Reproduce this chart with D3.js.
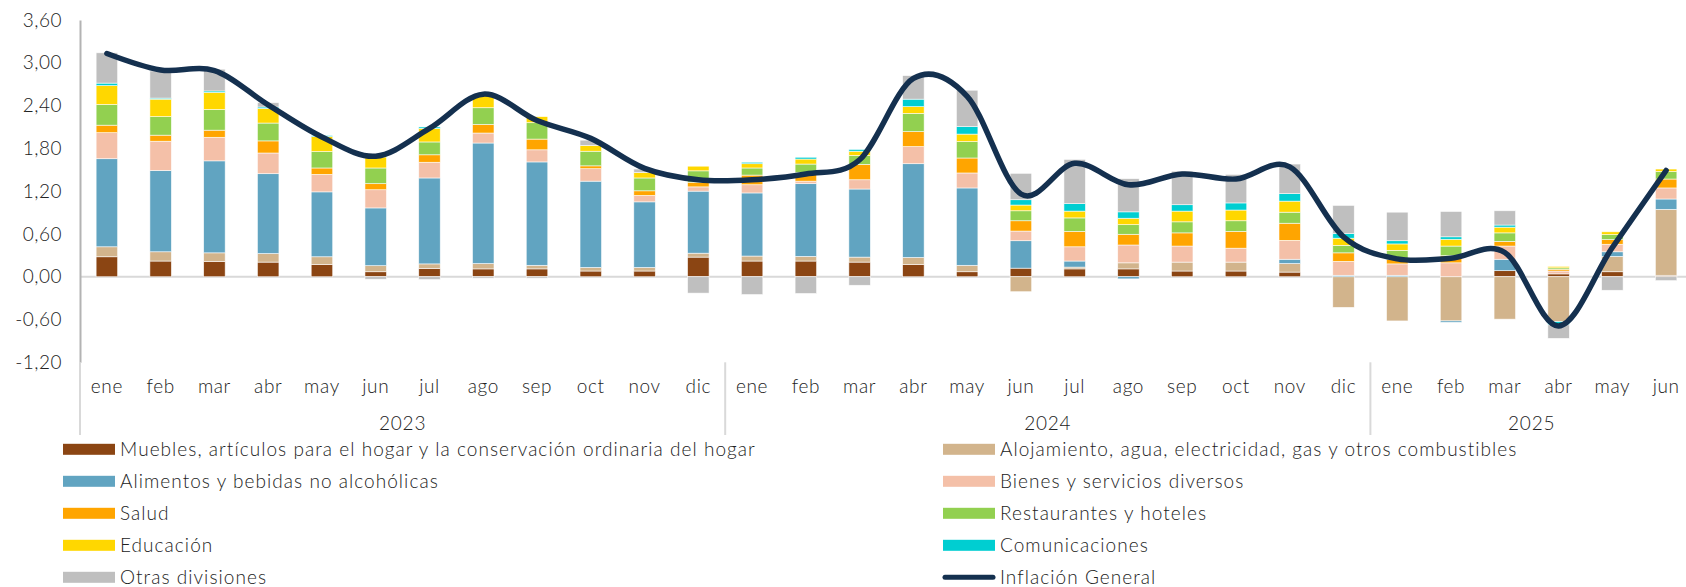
<!DOCTYPE html>
<html>
<head>
<meta charset="utf-8">
<script src="https://cdn.jsdelivr.net/npm/d3@7"></script>
<style>
  html, body { margin: 0; padding: 0; background: #fff; }
  svg { display: block; font-family: Lato, "Open Sans", sans-serif; font-weight: 300; }
</style>
</head>
<body>
<svg id="chart" width="1686" height="587"></svg>
<script>
const months = ["ene","feb","mar","abr","may","jun","jul","ago","sep","oct","nov","dic",
                "ene","feb","mar","abr","may","jun","jul","ago","sep","oct","nov","dic",
                "ene","feb","mar","abr","may","jun"];
const years = [{label:"2023", start:0, end:12}, {label:"2024", start:12, end:24}, {label:"2025", start:24, end:30}];
const yTicks = [-1.2, -0.6, 0, 0.6, 1.2, 1.8, 2.4, 3.0, 3.6];

const muebles =        [0.28,0.22,0.215,0.205,0.17,0.07,0.115,0.11,0.11,0.08,0.08,0.275,0.22,0.22,0.205,0.17,0.07,0.12,0.11,0.11,0.08,0.08,0.065,0,0,0,0.085,0.04,0.07,0.02];
const alojamiento =    [0.14,0.13,0.12,0.12,0.11,0.085,0.065,0.075,0.05,0.05,0.05,0.055,0.07,0.065,0.07,0.10,0.09,-0.21,0.025,0.085,0.125,0.125,0.12,-0.43,-0.62,-0.62,-0.595,-0.63,0.215,0.925];
const alimentos =      [1.235,1.14,1.29,1.12,0.91,0.81,1.205,1.69,1.45,1.21,0.92,0.87,0.885,1.02,0.955,1.315,1.085,0.385,0.085,-0.03,0,0,0.06,0.02,0.02,-0.02,0.16,0,0.065,0.145];
const bienes =         [0.365,0.41,0.33,0.29,0.245,0.255,0.22,0.14,0.17,0.175,0.09,0.06,0.115,0.035,0.13,0.24,0.21,0.135,0.2,0.25,0.225,0.195,0.265,0.195,0.16,0.195,0.185,0.04,0.105,0.155];
const salud =          [0.105,0.085,0.1,0.17,0.09,0.085,0.105,0.12,0.15,0.04,0.065,0.065,0.135,0.12,0.215,0.21,0.21,0.145,0.215,0.15,0.185,0.235,0.24,0.12,0.065,0.10,0.065,0.025,0.065,0.125];
const restaurantes =   [0.29,0.26,0.29,0.25,0.23,0.22,0.18,0.235,0.23,0.205,0.18,0.16,0.10,0.12,0.125,0.255,0.23,0.14,0.19,0.135,0.155,0.15,0.155,0.105,0.125,0.135,0.12,0.02,0.07,0.105];
const educacion =      [0.265,0.245,0.24,0.205,0.21,0.155,0.19,0.18,0.085,0.08,0.075,0.065,0.06,0.07,0.06,0.095,0.105,0.08,0.095,0.09,0.15,0.15,0.155,0.10,0.09,0.095,0.08,0.02,0.04,0.035];
const comunicaciones = [0.035,0.015,0.02,0.02,0.015,0.03,0.02,0,0,0,0,0,0.02,0.025,0.025,0.105,0.105,0.075,0.105,0.09,0.09,0.10,0.105,0.065,0.045,0.035,0.03,-0.045,0,0];
const otras =          [0.425,0.38,0.305,0.06,0,-0.035,-0.04,-0.02,-0.02,0.075,0.05,-0.23,-0.25,-0.235,-0.12,0.33,0.51,0.37,0.62,0.465,0.47,0.40,0.415,0.395,0.40,0.355,0.20,-0.19,-0.19,-0.055];
const inflacion =      [3.13,2.90,2.89,2.41,1.96,1.69,2.08,2.56,2.19,1.94,1.52,1.36,1.36,1.44,1.64,2.78,2.53,1.16,1.59,1.29,1.44,1.37,1.54,0.56,0.25,0.26,0.34,-0.69,0.41,1.49];

const series = [
  {key:"muebles", name:"Muebles, artículos para el hogar y la conservación ordinaria del hogar", color:"#8B4513", values:muebles},
  {key:"alojamiento", name:"Alojamiento, agua, electricidad, gas y otros combustibles", color:"#D2B48C", values:alojamiento},
  {key:"alimentos", name:"Alimentos y bebidas no alcohólicas", color:"#61A4C1", values:alimentos},
  {key:"bienes", name:"Bienes y servicios diversos", color:"#F4C0A8", values:bienes},
  {key:"salud", name:"Salud", color:"#FFA500", values:salud},
  {key:"restaurantes", name:"Restaurantes y hoteles", color:"#92D050", values:restaurantes},
  {key:"educacion", name:"Educación", color:"#FFD700", values:educacion},
  {key:"comunicaciones", name:"Comunicaciones", color:"#00CED1", values:comunicaciones},
  {key:"otras", name:"Otras divisiones", color:"#BFBFBF", values:otras}
];
const lineName = "Inflación General";
const lineColor = "#14304F";

const svg = d3.select("#chart");
const W = 1686, H = 587;
const left = 80, right = 1693;

const x = d3.scaleBand().domain(d3.range(months.length)).range([left, right]).paddingInner(0.6).paddingOuter(0.3);
const y = d3.scaleLinear().domain([-1.2, 3.6]).range([362.3, 20]);

const table = months.map((m, i) => {
  const row = {i};
  series.forEach(s => row[s.key] = s.values[i]);
  return row;
});
const stack = d3.stack().keys(series.map(s => s.key)).offset(d3.stackOffsetDiverging);
const stacked = stack(table);

// zero line
svg.append("line").attr("x1", left).attr("x2", W).attr("y1", y(0)).attr("y2", y(0))
  .attr("stroke", "#d9d9d9").attr("stroke-width", 2);

// bars
const g = svg.append("g");
stacked.forEach((layer, li) => {
  g.append("g").attr("fill", series[li].color)
    .selectAll("rect").data(layer).join("rect")
    .attr("x", d => x(d.data.i))
    .attr("width", x.bandwidth())
    .attr("y", d => y(Math.max(d[0], d[1])))
    .attr("height", d => Math.abs(y(d[0]) - y(d[1])))
    .attr("stroke", "#ffffff").attr("stroke-width", 0.7).attr("stroke-opacity", 0.8);
});

// y axis
const yAxis = d3.axisLeft(y).tickValues(yTicks).tickSize(0).tickPadding(18)
  .tickFormat(d => d3.format(".2f")(d).replace(".", ",").replace("−", "-"));
const ya = svg.append("g").attr("transform", `translate(${left},0)`).call(yAxis);
ya.select(".domain").attr("stroke", "#b3b3b3").attr("stroke-width", 2);
ya.selectAll("text").attr("font-size", 19).attr("fill", "#222").attr("font-family", "Lato, sans-serif")
  .attr("font-weight", 300).style("letter-spacing", "0.5px");

// category axis lines
svg.append("line").attr("x1", left).attr("x2", left).attr("y1", 362.3).attr("y2", 435)
  .attr("stroke", "#d9d9d9").attr("stroke-width", 2);
years.forEach(yr => {
  if (yr.start > 0) {
    const xs = x(yr.start) - x.step() * x.paddingInner() / 2;
    svg.append("line").attr("x1", xs).attr("x2", xs).attr("y1", 362.3).attr("y2", 435)
      .attr("stroke", "#d9d9d9").attr("stroke-width", 2);
  }
});

// month labels
const xAxis = d3.axisBottom(x).tickSize(0).tickFormat(i => months[i]);
const xa = svg.append("g").attr("transform", `translate(0,378)`).call(xAxis);
xa.select(".domain").remove();
xa.selectAll("text").attr("font-size", 19).attr("fill", "#222").attr("dy", 0).attr("y", 15)
  .attr("font-family", "Lato, sans-serif").attr("font-weight", 300).style("letter-spacing", "0.6px");

// year labels
years.forEach(yr => {
  const x0 = x(yr.start) - x.step() * x.paddingInner() / 2;
  const x1 = x(yr.end - 1) + x.bandwidth() + x.step() * x.paddingInner() / 2;
  svg.append("text").attr("x", (x0 + x1) / 2).attr("y", 430).attr("text-anchor", "middle")
    .attr("font-size", 19).attr("fill", "#222").style("letter-spacing", "0.8px").text(yr.label);
});

// inflation line
const line = d3.line().x((d, i) => x(i) + x.bandwidth() / 2).y(d => y(d)).curve(d3.curveCatmullRom.alpha(0));
svg.append("path").datum(inflacion).attr("d", line).attr("fill", "none")
  .attr("stroke", lineColor).attr("stroke-width", 5.5).attr("stroke-linecap", "round").attr("stroke-linejoin", "round");

// legend
const legendItems = series.map(s => ({name: s.name, color: s.color, type: "rect"}))
  .concat([{name: lineName, color: lineColor, type: "line"}]);
const colX = [63, 943];
legendItems.forEach((it, k) => {
  const col = k % 2, row = Math.floor(k / 2);
  const lx = colX[col], ly = 449.3 + row * 32;
  const lg = svg.append("g");
  if (it.type === "rect") {
    lg.append("rect").attr("x", lx).attr("y", ly - 5.5).attr("width", 52).attr("height", 11).attr("fill", it.color);
  } else {
    lg.append("line").attr("x1", lx + 2).attr("x2", lx + 50).attr("y1", ly).attr("y2", ly)
      .attr("stroke", it.color).attr("stroke-width", 5).attr("stroke-linecap", "round");
  }
  lg.append("text").attr("x", lx + 57).attr("y", ly + 7).attr("font-size", 19).attr("fill", "#222")
    .style("letter-spacing", "1.05px").text(it.name);
});
</script>
</body>
</html>
